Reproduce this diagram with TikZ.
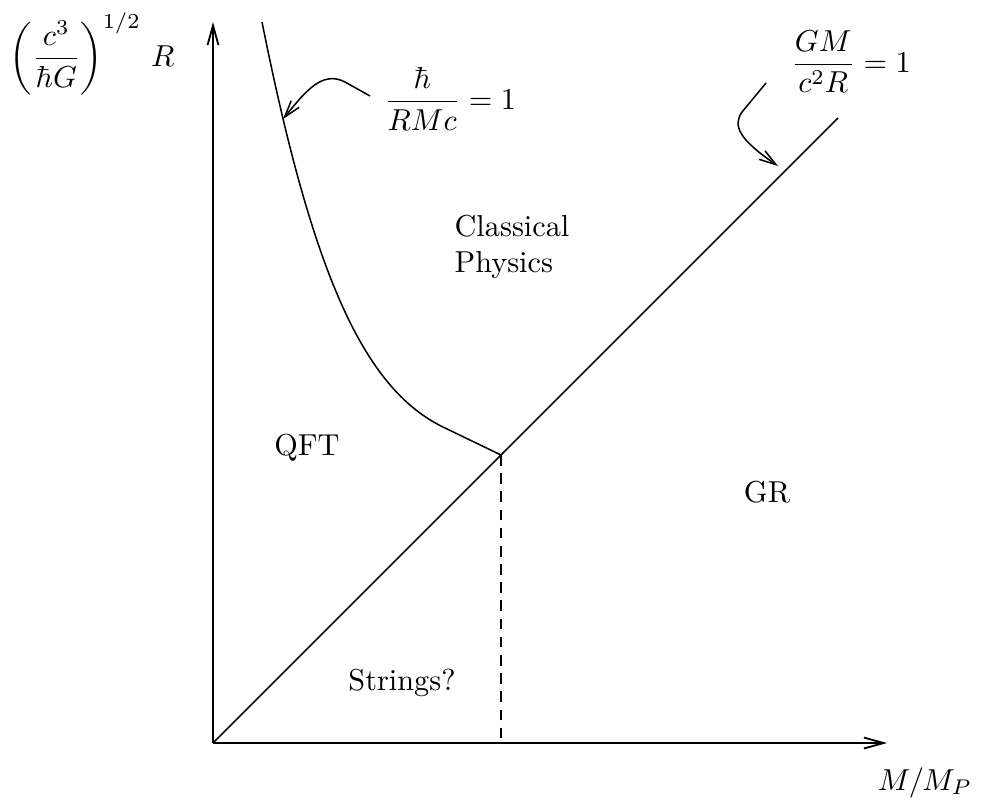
\documentclass[tikz,border=0pt]{standalone}
\usetikzlibrary{arrows.meta}
\begin{document}
\begin{tikzpicture}[x=0.33pt,y=-0.33pt,
  axis/.style={line width=0.6pt,-{Straight Barb[length=6.5pt,width=3.6pt]}},
  thinline/.style={line width=0.5pt},
  pointer/.style={line width=0.5pt,-{Straight Barb[length=5.5pt,width=3.4pt]}},
  lbl/.style={inner sep=0pt}]
\useasboundingbox (0,0) rectangle (987,804);
% coordinates
\coordinate (O) at (213,743);
\coordinate (ytip) at (213,22);
\coordinate (xtip) at (887,743);
\coordinate (I) at (501,455);
\coordinate (Dend) at (838,118);
\coordinate (foot) at (501,743);
\coordinate (ctop) at (262,22);
\coordinate (cbend) at (443,427);
\coordinate (a1s) at (370,96);
\coordinate (a1m) at (345,82);
\coordinate (a1e) at (283,119);
\coordinate (a2s) at (766,83);
\coordinate (a2m) at (742,112);
\coordinate (a2e) at (778,166);
% axes
\draw[axis] (O) -- (ytip);
\draw[axis] (O) -- (xtip);
% GR line
\draw[thinline] (O) -- (I) -- (Dend);
% dashed
\draw[thinline,dash pattern=on 3.5pt off 2.5pt] (I) -- (foot);
% quantum curve
\draw[thinline] (ctop) .. controls (312,272) and (363,388) .. (cbend) -- (I);
% pointers
\draw[pointer] (a1s) -- (a1m) .. controls (322,70) and (305,92) .. (a1e);
\draw[pointer] (a2s) -- (a2m) .. controls (732,126) and (740,140) .. (a2e);
% labels
\node[lbl] (ylab) at (92,54) {$\displaystyle\left(\frac{c^3}{\hbar G}\right)^{1/2}\,R$};
\node[lbl] (qlab) at (450,99) {$\displaystyle\frac{\hbar}{RMc}=1$};
\node[lbl] (glab) at (851,62) {$\displaystyle\frac{GM}{c^2R}=1$};
\node[lbl,align=left] (cp) at (512,247) {Classical\\Physics};
\node[lbl,anchor=base] (qft) at (307,455) {QFT};
\node[lbl,anchor=base] (gr) at (767,502) {GR};
\node[lbl,anchor=base] (str) at (402,690) {Strings?};
\node[lbl,anchor=base] (xlab) at (925,790) {$M/M_P$};
\end{tikzpicture}
\end{document}
